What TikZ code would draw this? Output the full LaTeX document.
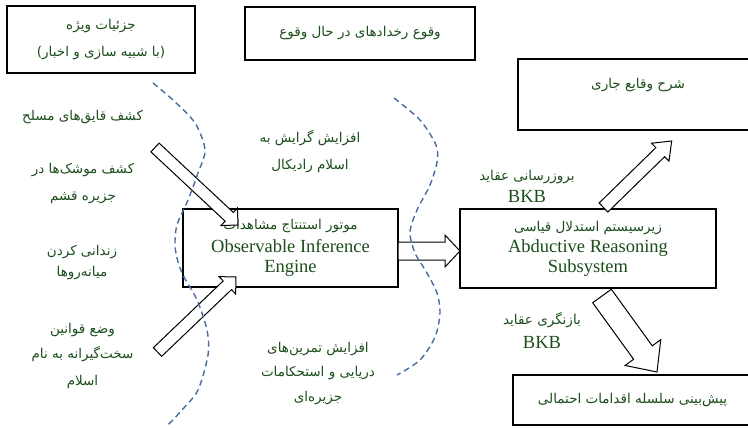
\documentclass[tikz,border=0pt]{standalone}
\usepackage{fontspec}
\setmainfont{Liberation Serif}
\newfontfamily\farsi[Script=Arabic]{DejaVu Sans}
\TeXXeTstate=1
\usetikzlibrary{calc}
\definecolor{textgreen}{RGB}{28,78,28}
\definecolor{boundblue}{RGB}{72,108,160}
\tikzset{
    box/.style = {draw, rectangle, line width=1.5pt, fill=white,
        text=textgreen, align=center, inner sep=0pt,
        font=\fontsize{18.5}{20}\selectfont},
    lbl/.style = {text=textgreen, align=center, inner sep=0pt,
        font=\fontsize{18.5}{25}\selectfont},
    fat/.style = {draw, line width=1pt, fill=white, line join=miter},
    bound/.style = {draw=boundblue, line width=1.4pt, dash pattern=on 6pt off 4pt}
}
\newcommand{\fa}[1]{{\farsi\fontsize{13.5}{25}\selectfont\beginR #1\endR}}
% hollow block arrow: tail, tip, half shaft, half head, head length
\newcommand{\fatarrow}[5]{%
    \coordinate (#2-neck) at ($(#2)!#5!(#1)$);
    \draw[fat] ($(#1)!#3!90:(#2)$) -- ($(#2-neck)!#3!90:(#2)$) -- ($(#2-neck)!#4!90:(#2)$)
        -- (#2) -- ($(#2-neck)!#4!-90:(#2)$) -- ($(#2-neck)!#3!-90:(#2)$)
        -- ($(#1)!#3!-90:(#2)$) -- cycle;
}
\begin{document}
\begin{tikzpicture}[x=1pt,y=-1pt]
    \useasboundingbox (0,0) rectangle (748,428);
    \clip (0,0) rectangle (748,428);
    % boxes
    \node[box, line width=2pt, minimum width=188pt, minimum height=67pt] (det) at (101,39.5)
        {\fa{جزئیات ویژه}\\[7pt]\fa{(با شبیه سازی و اخبار)}};
    \node[box, minimum width=230pt, minimum height=53pt] (occ) at (360,33.5)
        {\fa{وقوع رخدادهای در حال وقوع}};
    \node[box, minimum width=234pt, minimum height=71pt] (cur) at (635,94.5) {};
    \node[lbl] (curtxt) at (638,85) {\fa{شرح وقایع جاری}};
    \node[box, minimum width=239pt, minimum height=50pt] (pred) at (632.5,400)
        {\fa{پیش‌بینی سلسله اقدامات احتمالی}};
    \node[box, minimum width=215pt, minimum height=78pt] (obs) at (290.5,248)
        {\fa{موتور استنتاج مشاهدات}\\[3pt]Observable Inference\\Engine};
    \node[box, minimum width=256pt, minimum height=79pt] (abd) at (588,248.5)
        {\fa{زیرسیستم استدلال قیاسی}\\[1pt]Abductive Reasoning\\Subsystem};

    % observations
    \node[lbl] (boats) at (82.5,117) {\fa{کشف قایق‌های مسلح}};
    \node[lbl] (missiles) at (83,183.5) {\fa{کشف موشک‌ها در}\\[2pt]\fa{جزیره قشم}};
    \node[lbl] (jail) at (82,262.5) {\fa{زندانی کردن}\\[-4pt]\fa{میانه‌روها}};
    \node[lbl] (laws) at (82.5,356) {\fa{وضع قوانین}\\\fa{سخت‌گیرانه به نام}\\[2pt]\fa{اسلام}};
    \node[lbl] (radical) at (310,151.5) {\fa{افزایش گرایش به}\\[2pt]\fa{اسلام رادیکال}};
    \node[lbl] (drill) at (318,373.5) {\fa{افزایش تمرین‌های}\\[-1pt]\fa{دریایی و استحکامات}\\\fa{جزیره‌ای}};
    \node[lbl] (upd) at (527,186) {\fa{بروزرسانی عقاید}\\[-3pt]BKB};
    \node[lbl] (rev) at (542,330) {\fa{بازنگری عقاید}\\[-1pt]BKB};

    % block arrows
    \coordinate (fwdtail) at (398,251);
    \coordinate (fwdtip) at (460,251);
    \coordinate (intail) at (155,147.5);
    \coordinate (intip) at (238,225);
    \coordinate (uptail) at (157.5,352);
    \coordinate (uptip) at (236,277);
    \coordinate (curtail) at (603.5,207.5);
    \coordinate (curtip) at (671.7,141);
    \coordinate (predtail) at (602,296);
    \coordinate (predtip) at (657,372);
    \fatarrow{fwdtail}{fwdtip}{9pt}{16pt}{15pt}
    \fatarrow{intail}{intip}{6pt}{12pt}{12pt}
    \fatarrow{uptail}{uptip}{6pt}{12pt}{12pt}
    \fatarrow{curtail}{curtip}{6.3pt}{12.5pt}{16pt}
    \fatarrow{predtail}{predtip}{11.5pt}{22pt}{24pt}

    % dashed boundaries
    \draw[bound] plot[smooth] coordinates {(153,83) (173,100) (195,123) (205,150) (198,173)
        (188,200) (177,225) (175,245) (178,262) (184,277) (197,300) (207,330) (208,355)
        (198,390) (182,410) (168,425)};
    \draw[bound] plot[smooth] coordinates {(394,98) (420,120) (436,145) (437,162) (430,185)
        (417,210) (410,232) (415,253) (427,273) (437,293) (440,313) (435,337) (420,360)
        (397,375)};
\end{tikzpicture}
\end{document}
